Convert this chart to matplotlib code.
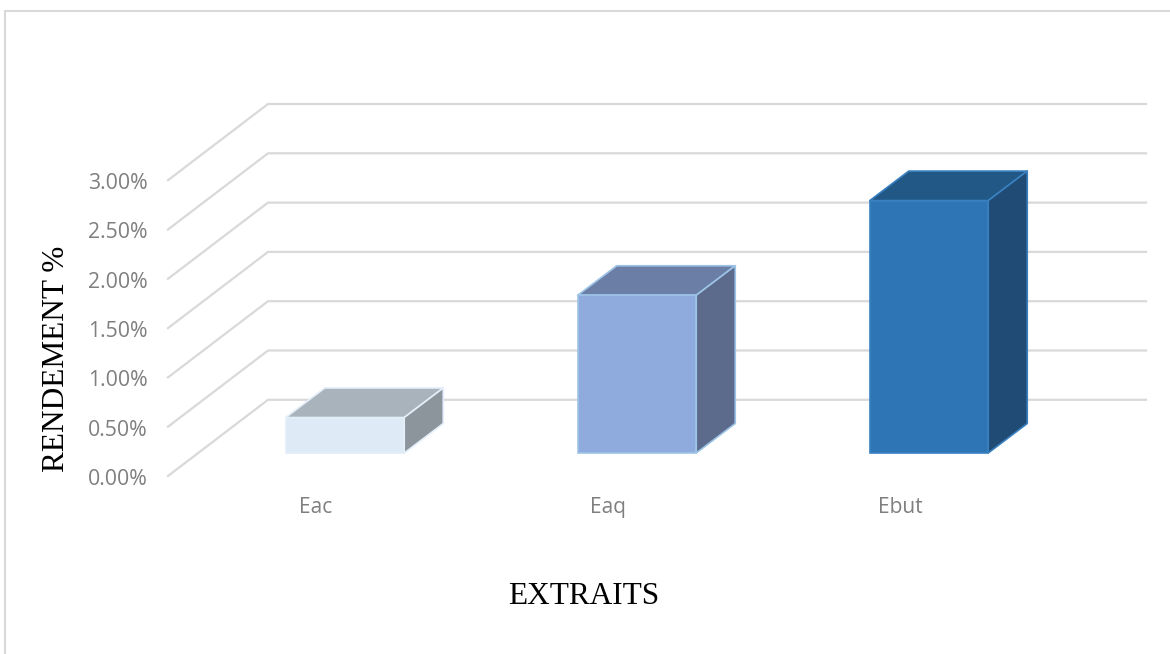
import matplotlib
matplotlib.use('Agg')
import matplotlib.pyplot as plt
from matplotlib.patches import Polygon, Rectangle

categories = ['Eac', 'Eaq', 'Ebut']
values = [0.36, 1.60, 2.56]
y_ticks = [0.0, 0.5, 1.0, 1.5, 2.0, 2.5, 3.0]
y_labels = ['0.00%', '0.50%', '1.00%', '1.50%', '2.00%', '2.50%', '3.00%']

face_colors = ['#deebf7', '#8faadc', '#2e75b6']
top_colors = ['#a8b3bb', '#6b7fa6', '#215886']
side_colors = ['#8c959c', '#5c6b8b', '#1f4b75']
edge_colors = ['#e3eef9', '#9dc3e6', '#3a80c0']
grid_color = '#d9d9d9'
tick_color = '#7f7f7f'

W, H = 1170, 654
# one category = 292 px, 1 % = 98.6 px, category 0 is centred on x=345, 0 % of the bars is y=453
px_x = 292.0
px_y = 98.6
x0 = 345.0
y0 = 453.0
fig = plt.figure(figsize=(W / 100, H / 100), dpi=100)
ax = fig.add_axes([0, 0, 1, 1])
ax.set_xlim(-x0 / px_x, (W - x0) / px_x)
ax.set_ylim((y0 - H) / px_y, y0 / px_y)
ax.axis('off')

bar_w = 118.5 / px_x
dep_x = 39 / px_x
dep_y = 29.5 / px_y

# walls: the floor runs from the front left corner to the back wall
wall_x = (268 - x0) / px_x
front_x = (168 - x0) / px_x
front_y = -23 / px_y
back_y = 53.2 / px_y
right_x = (1146 - x0) / px_x
for t in y_ticks:
    ax.plot([front_x, wall_x, right_x], [t + front_y, t + back_y, t + back_y],
            color=grid_color, lw=1.6, solid_joinstyle='miter', zorder=1)

# outer frame of the chart, open on the right and at the bottom
ax.plot([(5 - x0) / px_x, (5 - x0) / px_x, (W - x0) / px_x],
        [(y0 - H) / px_y, (y0 - 10.5) / px_y, (y0 - 10.5) / px_y],
        color='#d9d9d9', lw=1.5, zorder=1)

for i, v in enumerate(values):
    left = i - bar_w / 2
    right = i + bar_w / 2
    ax.add_patch(Polygon([(left, v), (right, v), (right + dep_x, v + dep_y), (left + dep_x, v + dep_y)],
                         fc=top_colors[i], ec=edge_colors[i], lw=1.2, joinstyle='round', zorder=3))
    ax.add_patch(Polygon([(right, 0), (right + dep_x, dep_y), (right + dep_x, v + dep_y), (right, v)],
                         fc=side_colors[i], ec=edge_colors[i], lw=1.2, joinstyle='round', zorder=3))
    ax.add_patch(Rectangle((left, 0), bar_w, v, fc=face_colors[i], ec=edge_colors[i], lw=1.2, zorder=4))

for t, lab in zip(y_ticks, y_labels):
    ax.text(front_x - 20.5 / px_x, t + front_y - 9 / px_y, lab, ha='right', va='baseline',
            family='Open Sans', fontsize=15.3, color=tick_color)

for i, c in enumerate(categories):
    ax.text(i - 29 / px_x, -60 / px_y, c, ha='center', va='baseline',
            family='Open Sans', fontsize=15, color=tick_color)

ax.text((584 - x0) / px_x, (y0 - 596) / px_y, 'EXTRAITS', ha='center', va='center',
        family='Liberation Serif', fontsize=22.5, color='black')
ax.text((56.5 - x0) / px_x, (y0 - 359) / px_y, 'RENDEMENT %', ha='center', va='center', rotation=90,
        family='Liberation Serif', fontsize=22.5, color='black')

fig.savefig('out.png', dpi=100)
